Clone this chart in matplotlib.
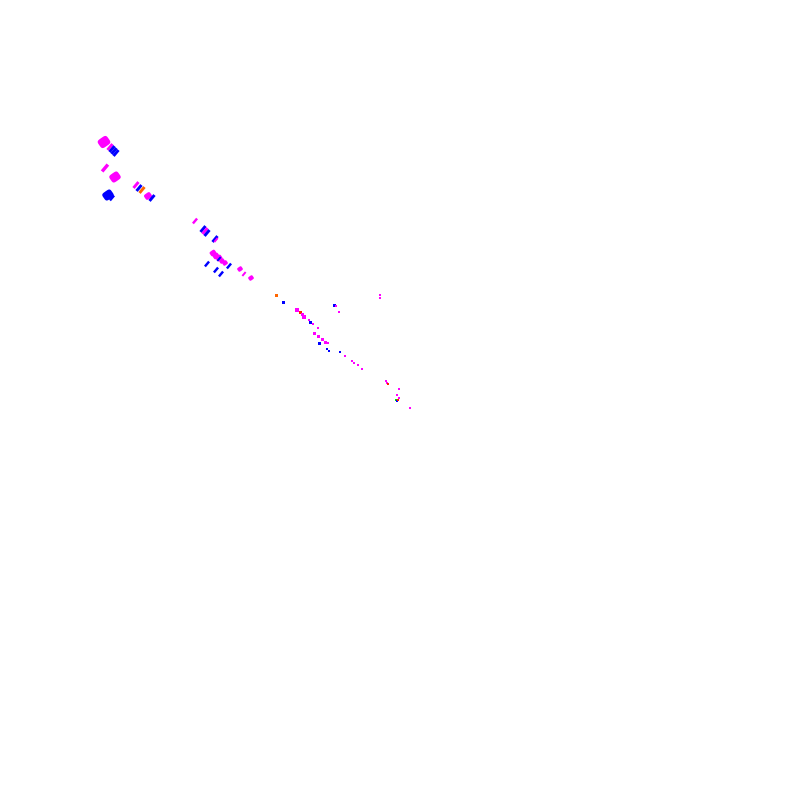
import matplotlib
matplotlib.use("Agg")
import matplotlib.pyplot as plt
import numpy as np
from matplotlib.path import Path

# point positions (pixel-like data units), sizes, colours, kinds
xs = [104, 110, 112, 114, 116, 105, 115, 108, 112, 136, 139, 142, 148, 152,
      195, 203, 205, 207, 215, 216, 213, 216, 219, 222, 225, 219, 207, 216, 221, 229,
      240, 244, 251, 276, 283, 380, 380, 334, 336, 339, 297, 300, 302, 304, 309, 310,
      313, 318, 314, 318, 322, 325, 328, 319, 327, 329, 340, 345, 352, 354, 358, 362,
      386, 387, 388, 399, 397, 399, 396, 397, 398, 410]
ys = [142, 147, 149, 151, 153, 168, 177, 195, 198, 185, 188, 190, 196, 198,
      221, 229, 231, 233, 239, 240, 253, 256, 258, 261, 263, 259, 264, 270, 274, 266,
      269, 274, 278, 295, 302, 295, 298, 305, 306, 312, 310, 312, 314, 317, 320, 322,
      324, 328, 333, 336, 339, 342, 343, 343, 349, 351, 352, 356, 361, 363, 365, 369,
      381, 383, 384, 389, 395, 398, 400, 401, 400, 408]
sizes = [11, 6, 6, 6, 6, 7, 10, 10, 5, 6, 6, 6, 7, 6,
         5, 6, 6, 6, 6, 4, 6, 6, 6, 5, 5, 4, 5, 5, 5, 5,
         5, 4, 5, 3, 3, 2, 2, 3, 2, 2, 4, 3, 3, 4, 2, 3,
         2, 2, 3, 3, 3, 3, 2, 3, 2, 2, 2, 2, 1.5, 1.5, 2, 1.5,
         1.2, 1.2, 1.2, 1.2, 1.2, 1.2, 1.5, 1.2, 1.2, 1.2]
colors = ['m', 'm', 'b', 'b', 'b', 'm', 'm', 'b', 'b', 'm', 'b', 'o', 'm', 'b',
          'm', 'b', 'm', 'b', 'b', 'm', 'm', 'm', 'm', 'm', 'm', 'b', 'b', 'b', 'b', 'b',
          'm', 'm', 'm', 'o', 'b', 'm', 'm', 'b', 'm', 'm', 'm', 'r', 'm', 'm', 'm', 'b',
          'm', 'm', 'm', 'm', 'm', 'm', 'm', 'b', 'b', 'b', 'b', 'm', 'm', 'm', 'm', 'm',
          'm', 'm', 'r', 'm', 'm', 'm', 'g', 'b', 'r', 'm']
kinds = ['B', 'S', 'S', 'S', 'S', 'S', 'B', 'B', 'S', 'S', 'S', 'S', 'B', 'S',
         'S', 'S', 'S', 'S', 'S', 'S', 'B', 'B', 'B', 'B', 'B', 'S', 'S', 'S', 'S', 'S',
         'B', 'S', 'B'] + ['D'] * 39

palette = {'m': '#ff00ff', 'b': '#0000ff', 'o': '#ff6600', 'r': '#ff2000', 'g': '#00e000'}


def rotated_rect(w, h, ang):
    c, s = np.cos(np.radians(ang)), np.sin(np.radians(ang))
    pts = np.array([[-w, -h], [w, -h], [w, h], [-w, h], [-w, -h]]) / 2.0
    rot = pts @ np.array([[c, s], [-s, c]])
    return Path(rot, [Path.MOVETO, Path.LINETO, Path.LINETO, Path.LINETO, Path.CLOSEPOLY])


def rotated_superellipse(w, h, ang, p=4.0, n=40):
    t = np.linspace(0, 2 * np.pi, n, endpoint=False)
    ct, st = np.cos(t), np.sin(t)
    x = np.sign(ct) * np.abs(ct) ** (2.0 / p) * w / 2.0
    y = np.sign(st) * np.abs(st) ** (2.0 / p) * h / 2.0
    pts = np.column_stack([x, y])
    c, s = np.cos(np.radians(ang)), np.sin(np.radians(ang))
    rot = pts @ np.array([[c, s], [-s, c]])
    rot = np.vstack([rot, rot[:1]])
    codes = [Path.MOVETO] + [Path.LINETO] * (n - 1) + [Path.CLOSEPOLY]
    return Path(rot, codes)


markers = {'B': rotated_superellipse(1.0, 0.85, 35), 'S': rotated_rect(1.0, 0.38, 50), 'D': 's'}

fig = plt.figure(figsize=(8, 8), dpi=100)
ax = fig.add_axes([0, 0, 1, 1])
ax.set_xlim(0, 800)
ax.set_ylim(800, 0)
ax.axis('off')

xs_a = np.array(xs, float)
ys_a = np.array(ys, float)
sz = np.array(sizes, float)
px2pt = 72.0 / 100.0
scale = {'B': 1.15, 'S': 1.3, 'D': 1.0}
for k in ['B', 'S', 'D']:
    idx = [i for i, kk in enumerate(kinds) if kk == k]
    ax.scatter(xs_a[idx], ys_a[idx], s=(sz[idx] * px2pt * scale[k]) ** 2,
               c=[palette[colors[i]] for i in idx], marker=markers[k], linewidths=0)

fig.savefig('out.png', dpi=100)
